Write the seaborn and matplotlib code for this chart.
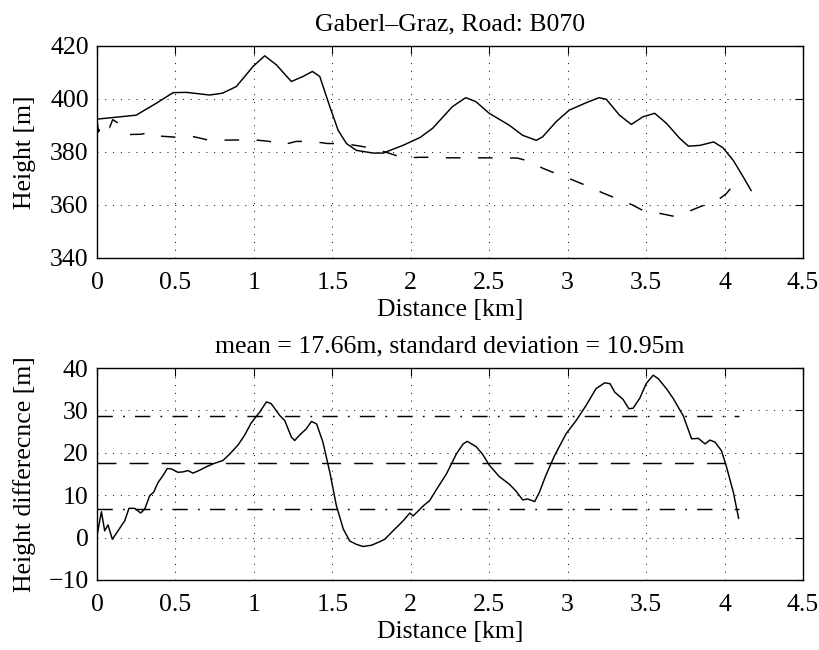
import matplotlib
matplotlib.use("Agg")
import matplotlib.pyplot as plt
import seaborn as sns
import pandas as pd
import numpy as np

# ---- data ----
road_x = [0.0, 0.25, 0.378, 0.485, 0.57, 0.718, 0.80, 0.888, 0.995, 1.069, 1.143, 1.239,
          1.313, 1.373, 1.42, 1.484, 1.537, 1.59, 1.654, 1.76, 1.824, 1.95, 2.06, 2.14,
          2.265, 2.35, 2.415, 2.5, 2.628, 2.713, 2.80, 2.84, 2.926, 3.01, 3.118, 3.2,
          3.246, 3.33, 3.406, 3.48, 3.555, 3.63, 3.715, 3.77, 3.843, 3.93, 3.99, 4.056,
          4.12, 4.17]
road_h = [392.4, 393.9, 398.4, 402.4, 402.5, 401.5, 402.2, 404.7, 412.3, 416.3, 412.9, 406.6,
          408.5, 410.4, 408.5, 397.1, 388.2, 383.2, 380.6, 379.6, 379.6, 382.5, 385.5, 389.0,
          397.1, 400.5, 399.0, 394.6, 390.1, 386.3, 384.4, 385.7, 391.4, 395.8, 398.6, 400.5,
          399.9, 393.9, 390.4, 393.3, 394.6, 390.8, 385.1, 382.2, 382.5, 383.8, 381.6, 376.8,
          370.5, 365.4]

ref_x = [0.0, 0.01, 0.03, 0.05, 0.08, 0.10, 0.19, 0.21, 0.28, 0.35, 0.40, 0.5, 0.6, 0.71,
         0.85, 1.0, 1.1, 1.17, 1.27, 1.37, 1.47, 1.57, 1.68, 1.76, 1.87, 1.95, 2.06, 2.15,
         2.25, 2.35, 2.46, 2.55, 2.68, 2.75, 2.84, 2.94, 3.03, 3.12, 3.23, 3.31, 3.41, 3.49,
         3.59, 3.68, 3.78, 3.85, 3.95, 4.01, 4.08, 4.12]
ref_h = [392.0, 387.6, 391.0, 391.4, 389.2, 392.2, 388.9, 386.6, 386.7, 387.5, 386.0, 385.6,
         386.0, 384.5, 384.5, 384.6, 384.0, 382.5, 384.0, 384.0, 383.2, 383.2, 382.2, 381.3,
         379.4, 377.8, 378.0, 378.0, 377.8, 377.8, 377.8, 377.8, 377.7, 376.6, 373.9, 371.5,
         369.5, 367.3, 364.4, 362.5, 360.1, 357.6, 356.8, 355.7, 357.8, 359.5, 361.6, 364.2,
         369.2, 370.5]

diff_x = [0.0, 0.028, 0.049, 0.07, 0.098, 0.134, 0.166, 0.176, 0.204, 0.24, 0.278, 0.304,
          0.336, 0.361, 0.389, 0.42, 0.448, 0.474, 0.516, 0.548, 0.58, 0.612, 0.655, 0.697,
          0.74, 0.803, 0.846, 0.9, 0.94, 0.984, 1.037, 1.08, 1.11, 1.165, 1.197, 1.239, 1.26,
          1.292, 1.335, 1.367, 1.4, 1.44, 1.484, 1.526, 1.57, 1.611, 1.654, 1.696, 1.75, 1.8,
          1.834, 1.887, 1.95, 1.994, 2.015, 2.08, 2.12, 2.163, 2.227, 2.29, 2.334, 2.36,
          2.415, 2.457, 2.5, 2.564, 2.628, 2.67, 2.713, 2.745, 2.79, 2.82, 2.86, 2.916, 2.99,
          3.054, 3.118, 3.18, 3.236, 3.27, 3.3, 3.353, 3.39, 3.417, 3.46, 3.5, 3.545, 3.577,
          3.63, 3.673, 3.737, 3.79, 3.833, 3.876, 3.907, 3.94, 3.98, 4.01, 4.056, 4.09]
diff_v = [0.4, 6.1, 1.6, 3.0, -0.4, 1.6, 3.4, 3.9, 6.9, 6.9, 5.8, 6.7,
          9.9, 10.7, 13.0, 14.6, 16.3, 16.2, 15.4, 15.5, 15.8, 15.2, 15.9, 16.7,
          17.4, 18.2, 19.7, 21.9, 24.1, 27.1, 29.6, 32.0, 31.6, 28.8, 27.6, 23.7, 22.9,
          24.2, 25.7, 27.4, 26.8, 22.5, 15.4, 7.5, 2.0, -0.8, -1.6, -2.1, -1.8, -1.0,
          -0.4, 1.6, 3.9, 5.8, 5.1, 7.5, 8.7, 11.3, 15.0, 19.7, 22.1, 22.7,
          21.5, 19.7, 17.1, 14.4, 12.6, 11.0, 8.9, 9.1, 8.5, 10.7, 14.6, 19.3, 24.5,
          27.6, 31.2, 35.1, 36.5, 36.3, 34.3, 32.6, 30.4, 30.5, 32.9, 36.3, 38.3, 37.5,
          35.1, 32.8, 28.7, 23.3, 23.4, 22.1, 23.0, 22.5, 20.5, 17.0, 10.7, 4.5]

mean_val = 17.66
std_val = 10.95
band_x = [0.0, 4.09]

x_ticks = [0, 0.5, 1, 1.5, 2, 2.5, 3, 3.5, 4, 4.5]
x_ticklabels = ["0", "0.5", "1", "1.5", "2", "2.5", "3", "3.5", "4", "4.5"]
top_yticks = [340, 360, 380, 400, 420]
bot_yticks = [-10, 0, 10, 20, 30, 40]

# ---- style ----
sns.set_theme(style="white")
plt.rcParams["font.family"] = ["Liberation Serif", "DejaVu Serif"]
plt.rcParams["axes.unicode_minus"] = True
FS = 18.5

fig = plt.figure(figsize=(8.2, 6.5), dpi=100)
ax1 = fig.add_axes([97/820, 1-258/650, 706/820, 212/650])
ax2 = fig.add_axes([97/820, 1-580/650, 706/820, 212/650])

df_road = pd.DataFrame({"x": road_x, "h": road_h})
df_ref = pd.DataFrame({"x": ref_x, "h": ref_h})
df_diff = pd.DataFrame({"x": diff_x, "v": diff_v})

LW = 1.05
sns.lineplot(data=df_road, x="x", y="h", ax=ax1, color="black", linewidth=LW, sort=False)
sns.lineplot(data=df_ref, x="x", y="h", ax=ax1, color="black", linewidth=LW, sort=False)
ax1.lines[-1].set_linestyle((0, (10, 12)))

sns.lineplot(data=df_diff, x="x", y="v", ax=ax2, color="black", linewidth=LW, sort=False)
dashdot = (0, (10.5, 7, 1.2, 7))
for val, ls in [(mean_val + std_val, dashdot),
                (mean_val, (0, (13, 9))),
                (mean_val - std_val, dashdot)]:
    sns.lineplot(x=band_x, y=[val, val], ax=ax2, color="black", linewidth=LW)
    ax2.lines[-1].set_linestyle(ls)

for ax, yt, ylim in [(ax1, top_yticks, (340, 420)), (ax2, bot_yticks, (-10, 40))]:
    ax.set_xlim(0, 4.5)
    ax.set_ylim(*ylim)
    ax.set_xticks(x_ticks)
    ax.set_xticklabels(x_ticklabels)
    ax.set_yticks(yt)
    ax.tick_params(direction="in", top=True, right=True, length=6, width=0.8,
                   labelsize=FS, colors="black", pad=6)
    ax.tick_params(axis="x", pad=10)
    ax.grid(True, color="black", linestyle=(0, (1, 7)), linewidth=0.7)
    for s in ax.spines.values():
        s.set_color("black")
        s.set_linewidth(1.0)
    ax.set_xlabel("Distance [km]", fontsize=FS, color="black", labelpad=3.5)
    ax.set_facecolor("white")

ax1.set_ylabel("Height [m]", fontsize=FS, color="black", labelpad=10)
ax2.set_ylabel("Height differecnce [m]", fontsize=FS, color="black", labelpad=9)
ax1.set_title("Gaberl\u2013Graz, Road: B070", fontsize=FS, color="black", pad=11)
ax2.set_title("mean = 17.66m, standard deviation = 10.95m", fontsize=FS, color="black", pad=11)

fig.savefig("out.png", dpi=100, facecolor="white")
